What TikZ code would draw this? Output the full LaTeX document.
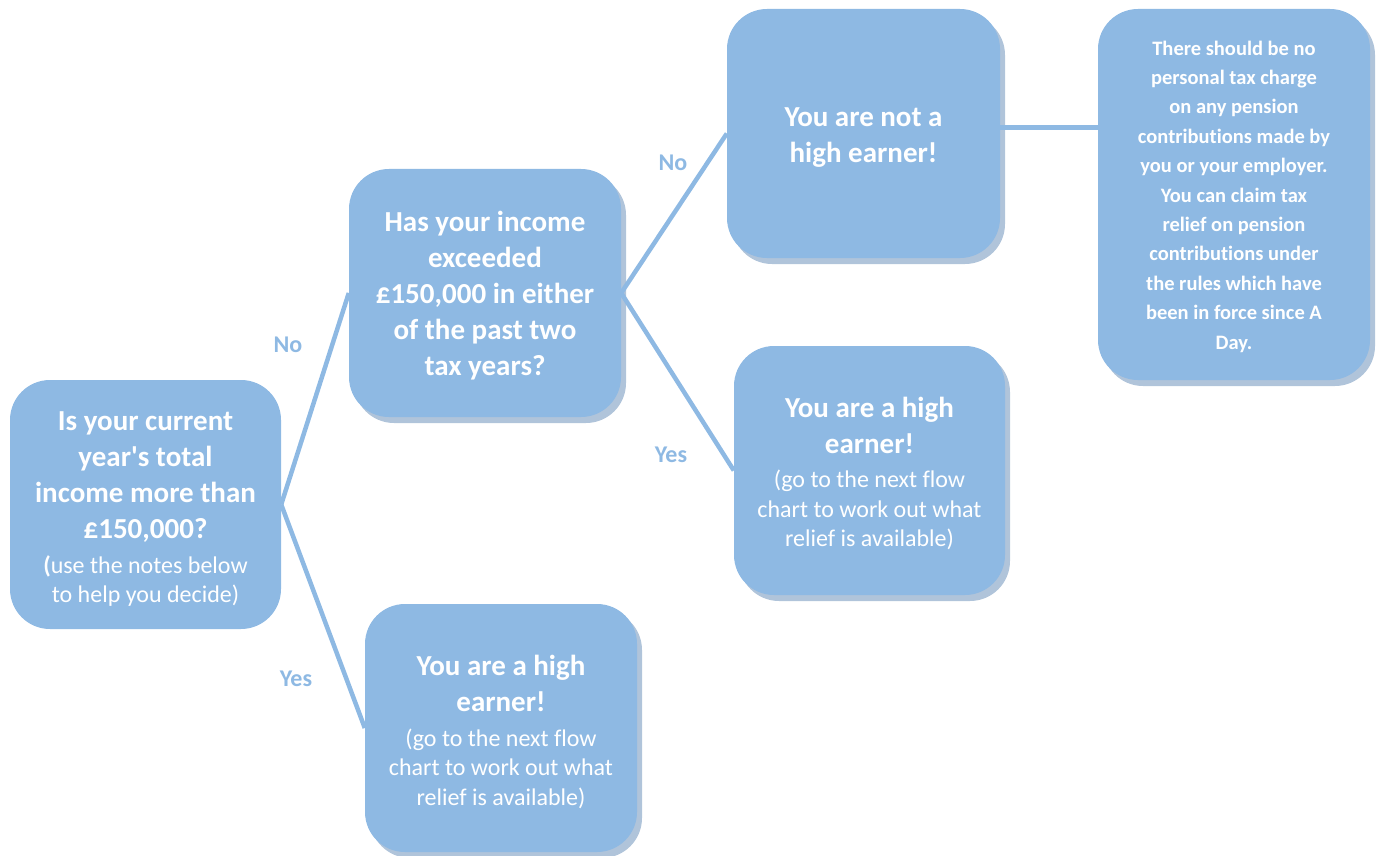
\documentclass[tikz,border=0pt]{standalone}
\usepackage{fontspec}
\setmainfont{Carlito}[Ligatures=TeXOff, RawFeature={-liga;-calt;-clig}]
\definecolor{boxblue}{RGB}{142,185,227}
\definecolor{shadowcol}{RGB}{176,196,218}
\tikzset{
  box/.style={fill=boxblue, rounded corners=40pt, inner sep=0pt},
  txt/.style={text=white, align=center, inner sep=0pt, text width=265pt},
  shadowed/.style={preaction={fill=shadowcol, transform canvas={xshift=5pt,yshift=-6pt}}},
  conn/.style={draw=boxblue, line width=4.5pt},
  lbl/.style={text=boxblue, font=\fontsize{24}{29}\selectfont\bfseries},
}
\newcommand{\fixsp}{\spaceskip=\fontdimen2\font\xspaceskip=\fontdimen2\font\relax}
\newcommand{\bigb}{\fontsize{29}{36}\selectfont\bfseries\fixsp}
\newcommand{\smallr}{\par\vspace{5pt}\fontsize{24}{29.5}\selectfont\mdseries\fixsp}
\newcommand{\smallb}{\fontsize{20.5}{29.4}\selectfont\bfseries\fixsp}
\begin{document}
\begin{tikzpicture}[x=1pt,y=-1pt]
\useasboundingbox (0,0) rectangle (1382,856);
% boxes
\node[box, minimum width=271pt, minimum height=249pt] (L) at (145.5,504.5) {};
\node[box, shadowed, minimum width=272pt, minimum height=248pt] (M) at (485,293) {};
\node[box, shadowed, minimum width=273pt, minimum height=249pt] (TR) at (863.5,133.5) {};
\node[box, shadowed, minimum width=272pt, minimum height=371pt] (FR) at (1234,194.5) {};
\node[box, shadowed, minimum width=271pt, minimum height=249pt] (RM) at (869.5,470.5) {};
\node[box, shadowed, minimum width=272pt, minimum height=248pt] (B) at (501,728) {};
% texts
\node[txt] (Lt) at ([yshift=-5pt]L.center)
  {\bigb Is your current\\ year's total\\ income more than\\ £150,000?
   \smallr {\bfseries\fixsp(}use the notes below\\ to help you decide)\par};
\node[txt] (Mt) at ([yshift=-3pt]M.center)
  {\bigb Has your income\\ exceeded\\ £150,000 in either\\ of the past two\\ tax years?\par};
\node[txt] (TRt) at ([yshift=-4.5pt]TR.center)
  {\bigb You are not a\\ high earner!\par};
\node[txt] (FRt) at ([yshift=-2pt]FR.center)
  {\smallb There should be no\\ personal tax charge\\ on any pension\\ contributions made by\\ you or your employer.\\ You can claim tax\\ relief on pension\\ contributions under\\ the rules which have\\ been in force since A\\ Day.\par};
\node[txt] (RMt) at ([yshift=-3pt]RM.center)
  {\bigb You are a high\\ earner! \smallr (go to the next flow\\ chart to work out what\\ relief is available)\par};
\node[txt] (Bt) at ([yshift=-4pt]B.center)
  {\bigb You are a high\\ earner! \smallr (go to the next flow\\ chart to work out what\\ relief is available)\par};
% connectors
\draw[conn] (L.east) -- (M.west);
\draw[conn] (L.east) -- (B.west);
\draw[conn] (M.east) -- (TR.west);
\draw[conn] (M.east) -- (RM.west);
\draw[conn] ([yshift=6pt]TR.east) -- ([yshift=6pt]TR.east -| FR.west);
% labels
\node[lbl] (n1) at (288,345) {No};
\node[lbl] (y1) at (296,679) {Yes};
\node[lbl] (n2) at (673,163) {No};
\node[lbl] (y2) at (671,455) {Yes};
\end{tikzpicture}
\end{document}
